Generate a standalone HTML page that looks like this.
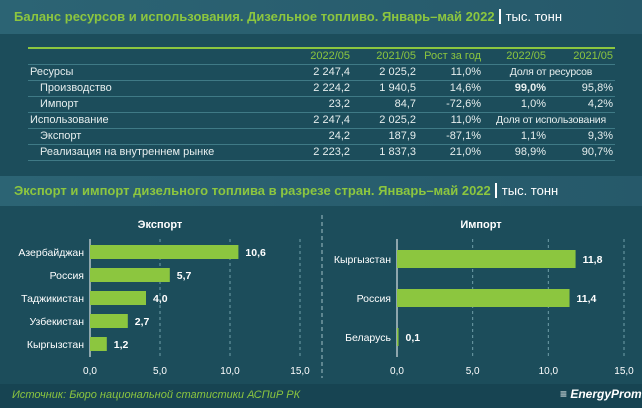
<!DOCTYPE html>
<html><head><meta charset="utf-8"><style>
body{margin:0;width:642px;height:408px;overflow:hidden;background:#1c4d5b;font-family:"Liberation Sans",sans-serif;color:#e6eeee;position:relative}
.bar1{position:absolute;left:0;width:642px;background:linear-gradient(90deg,#2c6474,#26596a)}
.t{position:absolute;white-space:nowrap}
.title{font-size:13px;font-weight:bold;color:#8cc63f}
.title span{color:#fff;font-weight:normal;border-left:2px solid #fff;padding-left:5px;margin-left:4px}
</style></head><body>
<div class="bar1" style="top:0;height:34px"></div>
<div class="t title" style="left:14px;top:9px">Баланс ресурсов и использования. Дизельное топливо. Январь–май 2022<span>тыс. тонн</span></div>
<div style="position:absolute;left:28px;top:47px;width:587px">
<div style="height:2px;background:#8cc63f"></div>
<div id="tbl"></div>
</div>
<div class="bar1" style="top:176px;height:30px"></div>
<div class="t title" style="left:14px;top:183px">Экспорт и импорт дизельного топлива в разрезе стран. Январь–май 2022<span>тыс. тонн</span></div>
<svg id="ch" width="642" height="408" style="position:absolute;left:0;top:0"></svg>
<div class="bar1" style="top:384px;height:24px;background:#174452"></div>
<div class="t" style="left:12px;top:389px;font-size:11px;font-style:italic;color:#8cc63f">Источник: Бюро национальной статистики АСПиР РК</div>
<div class="t" style="left:560px;top:387px;font-size:12px;font-style:italic;font-weight:bold;color:#fff">≡ EnergyProm</div>
<script>
const rows=[["Ресурсы","2 247,4","2 025,2","11,0%","Доля от ресурсов",""],["  Производство","2 224,2","1 940,5","14,6%","99,0%","95,8%"],["  Импорт","23,2","84,7","-72,6%","1,0%","4,2%"],["Использование","2 247,4","2 025,2","11,0%","Доля от использования",""],["  Экспорт","24,2","187,9","-87,1%","1,1%","9,3%"],["  Реализация на внутреннем рынке","2 223,2","1 837,3","21,0%","98,9%","90,7%"]];
const hdr=["","2022/05","2021/05","Рост за год","2022/05","2021/05"];
const colR=[0,324,390,455,520,587];
const tbl=document.getElementById('tbl');
function row(cells,isH,i){
 const d=document.createElement('div');
 d.style.cssText='position:relative;height:15px;border-bottom:1px solid #3f7a86;font-size:11px';
 cells.forEach((c,j)=>{
  if(!c&&j)return;
  const s=document.createElement('div');s.className='t';s.textContent=c.trim();
  if(j==0){s.style.left=(c.startsWith('  ')?12:2)+'px';}
  else if(j==4&&!cells[5]){s.style.left='457px';s.style.width='132px';s.style.textAlign='center';s.style.fontSize='10.5px';s.style.letterSpacing='-0.2px';}
  else{s.style.right=(587-colR[j]+2)+'px';}
  s.style.top='1px';
  if(isH)s.style.color='#8cc63f';
  if(!isH&&j==4&&i==1)s.style.fontWeight='bold';
  d.appendChild(s);
 });
 tbl.appendChild(d);
}
row(hdr,true);rows.forEach((r,i)=>row(r,false,i));

const expCats=["Азербайджан","Россия","Таджикистан","Узбекистан","Кыргызстан"];
const expVals=[10.6,5.7,4.0,2.7,1.2];
const impCats=["Кыргызстан","Россия","Беларусь"];
const impVals=[11.8,11.4,0.1];
const ticks=[0,5,10,15];
const svg=document.getElementById('ch');const NS='http://www.w3.org/2000/svg';
function el(t,a,txt){const e=document.createElementNS(NS,t);for(const k in a)e.setAttribute(k,a[k]);if(txt!=null)e.textContent=txt;svg.appendChild(e);return e;}
function chart(cats,vals,x0,x1,yTop,yBot,c0,step,bh,title,tx,pre){
 const sx=v=>x0+(x1-x0)*v/15;
 let e=el('text',{x:tx,y:228,'text-anchor':'middle','font-size':11,'font-weight':'bold',fill:'#fff'},title);
 
 ticks.forEach(t=>{
  if(t>0){e=el('line',{x1:sx(t),x2:sx(t),y1:yTop,y2:yBot,stroke:'#6f9ea8','stroke-dasharray':'3,3'});}
  e=el('text',{x:sx(t),y:374,'text-anchor':'middle','font-size':10,fill:'#fff'},t.toFixed(1).replace('.',','));
  
 });
 e=el('line',{x1:x0,x2:x0,y1:yTop,y2:yBot,stroke:'#fff'});
 cats.forEach((c,i)=>{
  const cy=c0+i*step;
  e=el('rect',{x:x0,y:cy-bh/2,width:sx(vals[i])-x0,height:bh,fill:'#8cc63f'});
  
  e=el('text',{x:x0-6,y:cy+4,'text-anchor':'end','font-size':10.5,fill:'#fff'},c);
  
  e=el('text',{x:sx(vals[i])+7,y:cy+4,'font-size':10.5,'font-weight':'bold',fill:'#fff'},vals[i].toFixed(1).replace('.',','));
  
 });
}
chart(expCats,expVals,90,300,239,357,252,23,14,'Экспорт',160,'export');
chart(impCats,impVals,397,624,239,357,259,39,18,'Импорт',481,'import');
let d=el('line',{x1:322,x2:322,y1:215,y2:378,stroke:'#9fc0c6','stroke-dasharray':'4,3'});

</script>
</body></html>
